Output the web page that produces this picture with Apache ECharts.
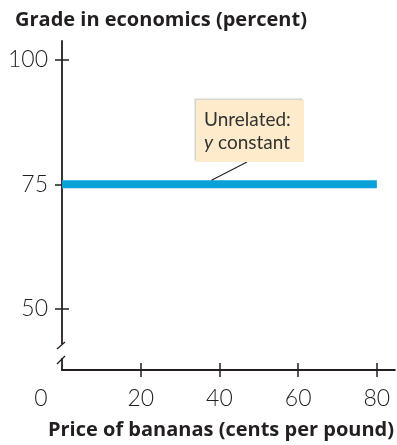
<!DOCTYPE html>
<html>
<head>
<meta charset="utf-8">
<script src="https://cdn.jsdelivr.net/npm/echarts@6/dist/echarts.min.js"></script>
<style>
  html, body { margin: 0; padding: 0; background: #fff; }
  #chart { width: 397px; height: 445px; }
</style>
</head>
<body>
<div id="chart"></div>
<script>
// Price of bananas vs. grade in economics: unrelated variables
const priceTicks = [0, 20, 40, 60, 80];
const gradeTicks = [50, 75, 100];
const priceValues = [0, 80];
const gradeValues = [75, 75];
const yTitle = 'Grade in economics (percent)';
const xTitle = 'Price of bananas (cents per pound)';
const noteLines = ['Unrelated:', '{i|y} constant'];
const notePoint = [38, 75];

const INK = '#231f20';
const NUM_FONT = { fontFamily: 'Lato', fontWeight: 300, fontSize: 23, color: INK };
const TITLE_FONT = { fontFamily: 'Open Sans', fontWeight: 'bold', fontSize: 20, color: INK };

const chart = echarts.init(document.getElementById('chart'), null, { renderer: 'canvas' });

const xBase = {
  type: 'value', min: 0, max: 84.6, position: 'bottom',
  splitLine: { show: false }
};
const yBase = {
  type: 'value', min: 37.7, max: 103.77, position: 'left',
  splitLine: { show: false }
};

chart.setOption({
  animation: false,
  title: {
    text: yTitle, left: 10, top: 5,
    textStyle: TITLE_FONT
  },
  grid: { left: 62, right: 0, top: 41, bottom: 71, containLabel: false },
  xAxis: [
    Object.assign({}, xBase, {
      axisLine: { show: true, lineStyle: { color: INK, width: 1.8 } },
      axisTick: { show: true, customValues: priceTicks.slice(1), length: 7, inside: false,
                  lineStyle: { color: INK, width: 1.5 } },
      axisLabel: {
        customValues: priceTicks, margin: 17, ...NUM_FONT,
        formatter: v => v === 0 ? '{z|0}' : String(v),
        rich: { z: { ...NUM_FONT, padding: [0, 42, 0, 0] } }
      },
      name: xTitle, nameLocation: 'middle', nameGap: 50,
      nameTextStyle: { ...TITLE_FONT, padding: [0, 15, 0, 0] }
    }),
    Object.assign({}, xBase, {
      axisLine: { show: false },
      axisTick: { show: true, customValues: priceTicks.slice(1), length: 7, inside: true,
                  lineStyle: { color: INK, width: 1.5 } },
      axisLabel: { show: false }
    })
  ],
  yAxis: [
    Object.assign({}, yBase, {
      axisLine: { show: true, lineStyle: { color: INK, width: 1.8 } },
      axisTick: { show: true, customValues: gradeTicks, length: 7, inside: false,
                  lineStyle: { color: INK, width: 1.5 } },
      axisLabel: { customValues: gradeTicks, margin: 14, ...NUM_FONT }
    }),
    Object.assign({}, yBase, {
      axisLine: { show: false },
      axisTick: { show: true, customValues: gradeTicks, length: 7, inside: true,
                  lineStyle: { color: INK, width: 1.5 } },
      axisLabel: { show: false }
    })
  ],
  series: [{
    type: 'line',
    xAxisIndex: 0, yAxisIndex: 0,
    data: priceValues.map((p, i) => [p, gradeValues[i]]),
    symbol: 'none',
    lineStyle: { color: '#0aa0da', width: 8, cap: 'butt' },
    z: 3
  }]
});

// Annotation box, leader line and the axis break marks
function drawExtras() {
  const at = (x, y) => chart.convertToPixel({ xAxisIndex: 0, yAxisIndex: 0 }, [x, y]);
  const lineY = at(0, 75)[1];
  const anchor = at(notePoint[0], notePoint[1]);
  const boxX = 196, boxY = 100, boxW = 108, boxH = 62;
  const origin = at(0, 37.7);
  const ax = origin[0], by = origin[1];
  chart.setOption({
    graphic: [
      { type: 'rect', shape: { x: boxX - 1.5, y: boxY - 1.5, width: boxW, height: boxH },
        style: { fill: '#d8d4cf' }, z: 10 },
      { type: 'rect', shape: { x: boxX, y: boxY, width: boxW, height: boxH },
        style: { fill: '#fdebcb' }, z: 11 },
      { type: 'text', x: boxX + 8, y: boxY + 8, z: 12,
        style: {
          text: noteLines.join('\n'), fontFamily: 'Lato', fontSize: 19, fill: '#333',
          lineHeight: 23,
          rich: { i: { fontFamily: 'Lato', fontStyle: 'italic', fontSize: 19, fill: '#333' } }
        } },
      { type: 'line', z: 9,
        shape: { x1: boxX + 51, y1: boxY + boxH, x2: anchor[0], y2: lineY - 4 },
        style: { stroke: INK, lineWidth: 1.1 } },
      // gap in the vertical axis
      { type: 'rect', z: 20, shape: { x: ax - 3, y: by - 26, width: 6, height: 14 },
        style: { fill: '#fff' } },
      { type: 'line', z: 21, shape: { x1: ax - 5, y1: by - 21, x2: ax + 3, y2: by - 28 },
        style: { stroke: INK, lineWidth: 1.3 } },
      { type: 'line', z: 21, shape: { x1: ax - 5, y1: by - 6, x2: ax + 3, y2: by - 14 },
        style: { stroke: INK, lineWidth: 1.3 } }
    ]
  });
}
drawExtras();
</script>
</body>
</html>
